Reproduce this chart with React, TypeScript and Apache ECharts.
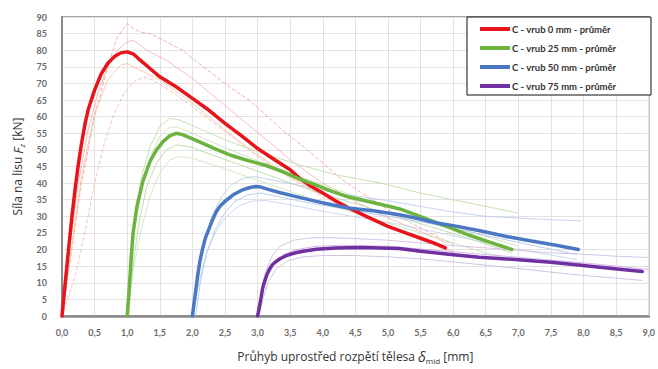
import React, { useEffect, useRef } from "react";
import * as echarts from "echarts";

// ---- Tick values ----
const xMin = 0;
const xMax = 9;
const xStep = 0.5;
const yMin = 0;
const yMax = 90;
const yStep = 5;

// ---- Legend / series names ----
const meanNames = [
  "C - vrub 0 mm - průměr",
  "C - vrub 25 mm - průměr",
  "C - vrub 50 mm - průměr",
  "C - vrub 75 mm - průměr",
];

// ---- Mean curves [deflection mm, force kN] ----
const redMean = [[0,0],[0.05,10],[0.1,20],[0.15,29.5],[0.2,38],[0.25,45.5],[0.3,52],[0.35,57.5],[0.4,62],[0.5,68],[0.6,72.8],[0.7,76],[0.8,78],[0.9,79.2],[1.0,79.5],[1.1,78.8],[1.2,77],[1.35,74.5],[1.5,72],[1.75,69],[2.0,65.5],[2.25,62],[2.5,58],[2.75,54.3],[3.0,50.4],[3.25,47.2],[3.5,44],[3.64,41.5],[3.8,39.3],[4.0,37],[4.2,34.6],[4.4,32.5],[4.7,29.7],[5.0,27],[5.25,25.2],[5.5,23.4],[5.7,22],[5.88,20.5]];
const greenMean = [[1.0,0],[1.03,8],[1.06,17],[1.09,25],[1.15,33],[1.24,40.5],[1.35,46.5],[1.45,50],[1.55,52.5],[1.65,54.2],[1.75,55],[1.85,54.6],[2.1,52.5],[2.35,50.3],[2.6,48.3],[2.85,46.8],[3.13,45.3],[3.4,43.3],[3.64,41.3],[3.9,39.4],[4.14,37.5],[4.4,35.8],[4.8,34],[5.17,32.3],[5.42,30.5],[5.75,28],[6.0,26.2],[6.25,24.3],[6.5,22.6],[6.75,21],[6.9,20]];
const blueMean = [[2.0,0],[2.04,6],[2.08,12],[2.12,17],[2.16,20.5],[2.2,23.5],[2.25,26],[2.31,29],[2.37,31.5],[2.43,33.2],[2.5,34.5],[2.62,36.4],[2.75,37.8],[2.87,38.6],[2.97,39],[3.05,38.8],[3.15,38.2],[3.35,37.1],[3.64,35.7],[3.9,34.5],[4.14,33.5],[4.4,32.5],[4.8,31.6],[5.17,30.5],[5.42,29.5],[5.75,28],[6.0,27.2],[6.43,25.6],[6.8,24],[7.2,22.6],[7.6,21.2],[7.92,20]];
const purpleMean = [[3.0,0],[3.04,4],[3.08,8.6],[3.11,10.5],[3.14,12.3],[3.18,14],[3.23,15.5],[3.29,16.5],[3.35,17.3],[3.42,18],[3.49,18.5],[3.6,19.1],[3.7,19.5],[3.9,20.1],[4.2,20.5],[4.6,20.6],[5.17,20.3],[5.5,19.5],[5.93,18.6],[6.4,17.7],[6.95,17],[7.5,16.2],[7.96,15.3],[8.4,14.4],[8.9,13.4]];

// ---- Individual specimen curves (thin) ----
const redT1 = [[0,0],[0.15,20],[0.3,40],[0.5,60],[0.7,75],[0.85,84],[1.0,88],[1.1,86.5],[1.2,85.5],[1.35,85],[1.6,82.5],[1.85,80],[2.1,76],[2.37,72],[2.6,68.5],[2.87,65],[3.1,61],[3.38,56],[3.7,51],[4.0,46],[4.3,41],[4.6,37],[5.0,32],[5.4,27.5],[5.8,23.5],[6.0,21.5]];
const redT2 = [[0,0],[0.2,12],[0.35,25],[0.5,40],[0.65,52],[0.8,61],[0.95,67],[1.1,70.5],[1.25,72],[1.4,71],[1.6,68.5],[1.9,64.5],[2.2,60],[2.6,54],[3.0,48],[3.5,41.5],[4.0,36],[4.5,31],[5.0,27],[5.5,23],[6.0,19]];
const redT3 = [[0,0],[0.1,18],[0.25,40],[0.4,56],[0.55,67],[0.7,75],[0.85,80],[1.0,82.5],[1.1,83],[1.3,80],[1.6,77],[2.0,71.5],[2.4,65],[2.8,58.5],[3.2,52],[3.6,45.5],[4.0,40],[4.5,34.5],[5.0,29.5],[5.5,25.5],[5.9,22]];
const redT4 = [[0,0],[0.1,14],[0.3,42],[0.5,61],[0.7,71],[0.9,75.5],[1.0,76],[1.2,74],[1.5,71],[1.8,67],[2.1,62.5],[2.5,56],[3.0,48.5],[3.5,42],[4.0,36.5],[4.5,31.5],[5.0,27],[5.5,23],[6.0,19.5]];
const greenT1 = [[1.0,0],[1.05,15],[1.12,30],[1.22,42],[1.35,51],[1.5,57],[1.65,59.5],[1.8,59],[2.1,56.5],[2.5,53],[3.0,49.5],[3.64,45.5],[4.2,42.5],[4.9,40],[5.5,37],[6.0,35],[6.5,33],[7.0,31]];
const greenT2 = [[1.0,0],[1.06,16],[1.14,30],[1.25,41],[1.38,49],[1.5,54],[1.62,56.5],[1.75,57],[2.0,55],[2.4,51.5],[2.9,47.5],[3.5,43],[4.0,39.5],[4.5,36],[5.0,33],[5.5,30],[6.0,27],[6.5,24],[7.0,21]];
const greenT3 = [[1.02,0],[1.08,14],[1.18,28],[1.3,39],[1.45,46],[1.6,50],[1.75,51.5],[1.95,51],[2.3,48.5],[2.8,45],[3.3,41.5],[3.8,38],[4.3,35],[4.8,32],[5.3,29],[5.8,26],[6.3,23],[6.9,19]];
const greenT4 = [[1.0,0],[1.08,12],[1.2,25],[1.35,36],[1.5,43],[1.65,47],[1.8,48],[2.0,47.5],[2.4,45],[2.9,41.5],[3.5,37.5],[4.0,34],[4.5,31],[5.0,28],[5.5,25],[6.0,22],[6.5,19],[6.9,17]];
const blueT1 = [[2.0,0],[2.08,12],[2.18,22],[2.3,30],[2.45,36],[2.6,39.5],[2.77,41.4],[2.95,42],[3.2,41],[3.6,39.5],[4.2,37],[4.9,35],[5.5,33],[5.93,31.5],[6.5,30],[7.0,29.5],[7.5,29],[7.96,28.6]];
const blueT2 = [[2.05,0],[2.12,10],[2.22,19],[2.35,26],[2.5,31],[2.65,34.5],[2.85,36.5],[3.05,37],[3.3,36],[3.8,34],[4.4,32],[5.0,30],[5.6,28],[6.2,25.5],[6.8,23],[7.4,20.5],[7.9,18.5]];
const blueT3 = [[2.0,0],[2.1,10],[2.2,18],[2.35,25],[2.5,29.5],[2.7,33],[2.9,34.5],[3.1,34.8],[3.5,33.5],[4.0,31.5],[4.6,29.5],[5.2,27.5],[5.8,25],[6.4,22.5],[7.0,20],[7.6,18],[7.9,17]];
const purpleT1 = [[3.0,0],[3.05,6],[3.12,13],[3.22,18],[3.35,21],[3.55,22.8],[3.8,23.5],[4.05,23.6],[4.5,23.3],[5.0,22.8],[5.5,22],[6.0,21.2],[6.5,20.5],[7.0,19.8],[7.5,19],[8.0,18.6],[8.5,18],[9.0,17.6]];
const purpleT2 = [[3.02,0],[3.08,5],[3.16,10],[3.28,14],[3.45,16.5],[3.7,17.8],[4.0,18.2],[4.5,18.2],[5.0,17.8],[5.5,17.2],[6.0,16.3],[6.5,15.3],[7.0,14.3],[7.5,13.2],[8.0,12.2],[8.5,11.4],[8.9,10.7]];
const purpleT3 = [[3.0,0],[3.06,7],[3.14,12],[3.26,16],[3.4,18.5],[3.6,20],[3.9,21],[4.3,21.3],[5.0,21],[5.6,20],[6.2,19],[6.8,18],[7.4,17],[8.0,16],[8.5,15],[9.0,14]];

const meanColors = ["#e8141b", "#6cb33f", "#4a78c4", "#7030a0"];

export default function App() {
  const ref = useRef<HTMLDivElement>(null);

  useEffect(() => {
    if (!ref.current) return;
    const chart = echarts.init(ref.current, undefined, { renderer: "svg" });

    const thin = (data: number[][], color: string, dashed = false, opacity = 0.75) => ({
      type: "line",
      data,
      showSymbol: false,
      symbol: "none",
      silent: true,
      lineStyle: { color, width: 1, type: dashed ? "dashed" : "solid", opacity },
      z: 1,
    });
    const mean = (name: string, data: number[][], color: string) => ({
      type: "line",
      name,
      data,
      showSymbol: false,
      symbol: "none",
      lineStyle: { color, width: 3.5, join: "round", cap: "round" },
      itemStyle: { color },
      z: 3,
    });

    const tickFont = { fontFamily: "Lato", fontWeight: "bold", fontSize: 9, color: "#6a6a6a" };

    chart.setOption({
      animation: false,
      backgroundColor: "#ffffff",
      grid: {
        left: 62,
        top: 17,
        right: 7,
        bottom: 50,
        show: true,
        borderColor: "#8a8a8a",
        borderWidth: 1.5,
        backgroundColor: "#ffffff",
      },
      xAxis: {
        type: "value",
        min: xMin,
        max: xMax,
        interval: xStep,
        axisLine: { show: true, lineStyle: { color: "#8a8a8a", width: 2.5 } },
        axisTick: { show: false },
        splitLine: { show: true, lineStyle: { color: "#e2e2e2", width: 1 } },
        axisLabel: {
          ...tickFont,
          margin: 12,
          formatter: (v: number) => v.toFixed(1).replace(".", ","),
        },
        name: "Průhyb uprostřed rozpětí tělesa {i|δ}{s|mid} [mm]",
        nameLocation: "middle",
        nameGap: 32,
        nameTextStyle: {
          fontFamily: "Open Sans",
          fontSize: 12,
          color: "#333",
          lineHeight: 16,
          rich: {
            i: { fontFamily: "Open Sans", fontSize: 14, fontStyle: "italic", color: "#333", lineHeight: 16 },
            s: { fontFamily: "Open Sans", fontSize: 8, color: "#333", lineHeight: 8, verticalAlign: "bottom" },
          },
        },
      },
      yAxis: {
        type: "value",
        min: yMin,
        max: yMax,
        interval: yStep,
        axisLine: { show: true, lineStyle: { color: "#8a8a8a", width: 2 } },
        axisTick: { show: false },
        splitLine: { show: true, lineStyle: { color: "#e2e2e2", width: 1 } },
        axisLabel: { ...tickFont, margin: 15 },
        name: "Síla na lisu {i|F}{s|z} [kN]",
        nameLocation: "middle",
        nameGap: 35,
        nameTextStyle: {
          fontFamily: "Open Sans",
          fontSize: 12,
          color: "#333",
          lineHeight: 16,
          rich: {
            i: { fontFamily: "Open Sans", fontSize: 13, fontStyle: "italic", color: "#333", lineHeight: 16 },
            s: { fontFamily: "Open Sans", fontSize: 8, fontStyle: "italic", color: "#333", lineHeight: 8, verticalAlign: "bottom" },
          },
        },
      },
      legend: {
        data: meanNames,
        orient: "vertical",
        left: 467,
        top: 17,
        padding: [6, 8, 6, 13],
        itemGap: 7,
        itemWidth: 30,
        itemHeight: 4,
        icon: "rect",
        z: 60,
        textStyle: { fontFamily: "Lato", fontWeight: "bold", fontSize: 9.5, color: "#333", lineHeight: 12, padding: [0, 0, 0, -3] },
      },
      graphic: [
        {
          type: "rect",
          z: 50,
          shape: { x: 467, y: 17, width: 184, height: 78 },
          style: { fill: "#ffffff", stroke: "#111", lineWidth: 1 },
        },
      ],
      series: [
        thin(redT1, "#f29a9a", true, 0.8),
        thin(redT2, "#f4b0b0", true, 0.8),
        thin(redT3, "#f5a3a3", false, 0.7),
        thin(redT4, "#f5c09a", false, 0.8),
        thin(greenT1, "#b9dca0", false, 0.8),
        thin(greenT2, "#c5e2b0", false, 0.8),
        thin(greenT3, "#b2d69a", false, 0.8),
        thin(greenT4, "#c8e3b5", false, 0.8),
        thin(blueT1, "#b5c8e6", false, 0.8),
        thin(blueT2, "#a9c1e8", false, 0.8),
        thin(blueT3, "#c0d0ea", false, 0.8),
        thin(purpleT1, "#cdb6e0", false, 0.8),
        thin(purpleT2, "#c6b8d8", false, 0.8),
        thin(purpleT3, "#c9a8e2", false, 0.8),
        mean(meanNames[0], redMean, meanColors[0]),
        mean(meanNames[1], greenMean, meanColors[1]),
        mean(meanNames[2], blueMean, meanColors[2]),
        mean(meanNames[3], purpleMean, meanColors[3]),
      ],
    });

    return () => chart.dispose();
  }, []);

  return (
    <div
      ref={ref}
      style={{ position: "absolute", left: 0, top: 0, width: 658, height: 369 }}
    />
  );
}
